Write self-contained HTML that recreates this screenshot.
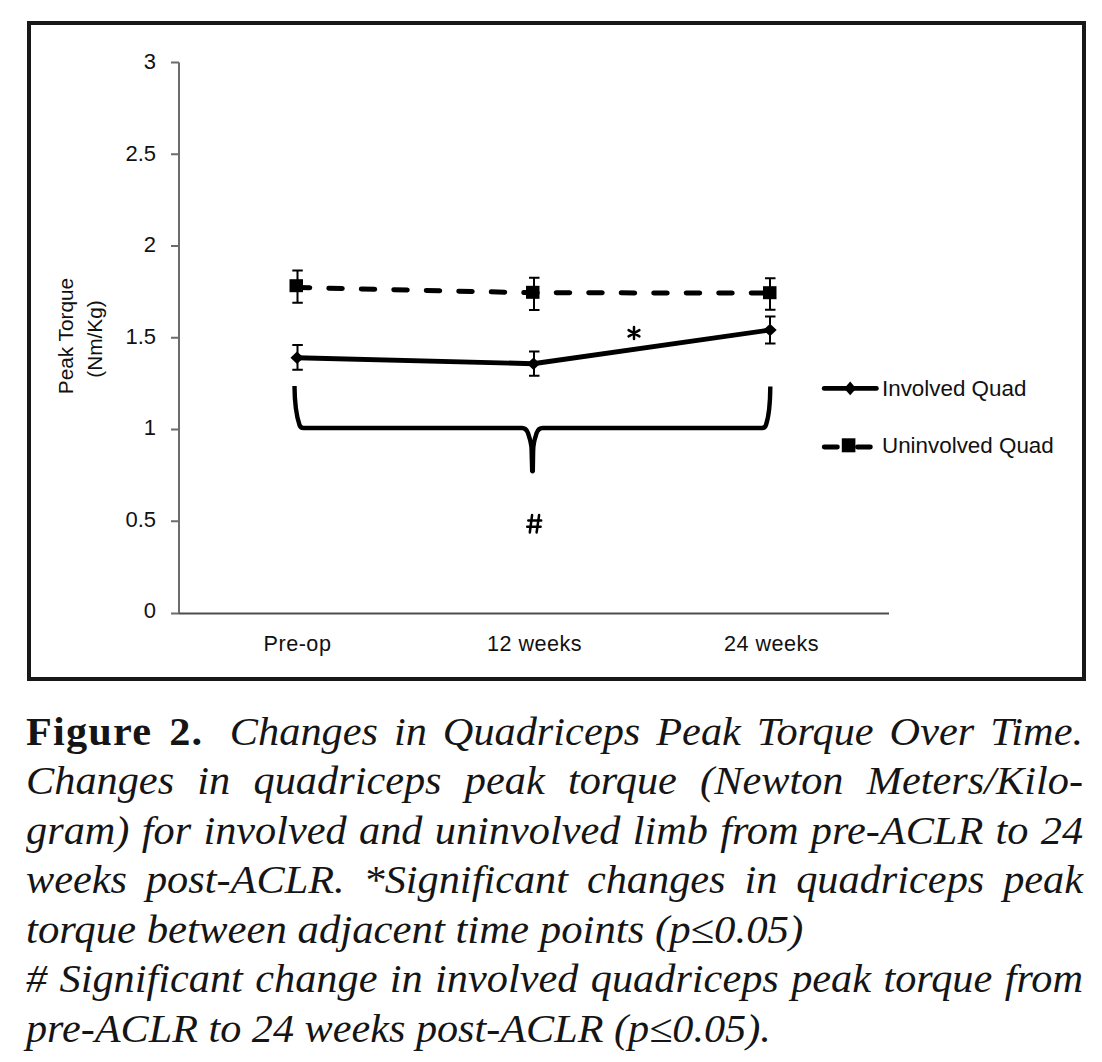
<!DOCTYPE html>
<html><head><meta charset="utf-8">
<style>
html,body{margin:0;padding:0;background:#fff;width:1102px;height:1062px;overflow:hidden;position:relative}
svg{position:absolute;left:0;top:0}
.ax{font-family:"Liberation Sans",sans-serif;fill:#111}
.cap{position:absolute;left:26px;font-family:"Liberation Serif",serif;font-style:italic;font-size:40px;line-height:49.5px;color:#151515;white-space:nowrap;transform-origin:0 0}
.j{text-align:justify;text-align-last:justify;white-space:normal}
b{font-style:normal;font-weight:bold;letter-spacing:1.1px;margin-right:10px}
</style></head>
<body>
<svg width="1102" height="1062" viewBox="0 0 1102 1062">
  <!-- outer frame -->
  <rect x="29" y="23" width="1055" height="656" fill="none" stroke="#181818" stroke-width="4"/>
  <!-- axes -->
  <g stroke="#6c6c6c" stroke-width="2" fill="none">
    <path d="M179 62.5V613.5"/>
    <path d="M179 613.5H889" stroke="#4d4d4d"/>
    <path d="M171 62.5H179M171 154.3H179M171 246H179M171 337.8H179M171 429.5H179M171 521.3H179M171 613.5H179"/>
  </g>
  <g class="ax" font-size="22" text-anchor="end">
    <text x="156" y="69.1">3</text>
    <text x="156" y="160.6">2.5</text>
    <text x="156" y="252.1">2</text>
    <text x="156" y="343.6">1.5</text>
    <text x="156" y="435.1">1</text>
    <text x="156" y="526.6">0.5</text>
    <text x="156" y="618.1">0</text>
  </g>
  <g class="ax" font-size="21.6" text-anchor="middle" letter-spacing="0.5">
    <text x="297.5" y="651">Pre-op</text>
    <text x="534.5" y="651">12 weeks</text>
    <text x="771.5" y="651">24 weeks</text>
  </g>
  <g class="ax" font-size="20.8" text-anchor="middle">
    <text transform="translate(72.5 336) rotate(-90)">Peak Torque</text>
    <text transform="translate(101.5 339) rotate(-90)">(Nm/Kg)</text>
  </g>
  <!-- uninvolved dashed -->
  <path d="M297.5 287.5L533 292.8L770 293" fill="none" stroke="#000" stroke-width="5" stroke-linecap="round" stroke-dasharray="13.5 19" stroke-dashoffset="1.2"/>
  <!-- involved solid -->
  <path d="M297 357.8L533 363.7L770 330" fill="none" stroke="#000" stroke-width="4.9" stroke-linejoin="round"/>
  <!-- error bars -->
  <g stroke="#000" stroke-width="2" fill="none">
    <path d="M297.5 270.4V302.7M292.3 270.4H302.8M292.3 302.7H302.8"/>
    <path d="M534 277.8V309.9M529 277.8H539.5M529 309.9H539.5"/>
    <path d="M770 278.2V309.8M765 278.2H775.5M765 309.8H775.5"/>
    <path d="M297.5 345V369.8M292.3 345H302.8M292.3 369.8H302.8"/>
    <path d="M534 351.4V375.7M529 351.4H539.5M529 375.7H539.5"/>
    <path d="M770 316.4V343.6M765 316.4H775.5M765 343.6H775.5"/>
  </g>
  <!-- markers -->
  <g fill="#000">
    <rect x="289.5" y="279.2" width="13.5" height="13"/>
    <rect x="526" y="285.8" width="13.5" height="13"/>
    <rect x="763" y="286.2" width="13.5" height="13"/>
    <path d="M297 351.5L303.7 357.8L297 364L290.5 357.8Z"/>
    <path d="M533.5 357.4L540 363.7L533.5 370L527 363.7Z"/>
    <path d="M770 323.7L776.7 330L770 336.3L763.3 330Z"/>
  </g>
  <!-- asterisk -->
  <g stroke="#000" stroke-width="2.5" stroke-linecap="round"><path d="M634 327V339M628.6 330.1L639.4 336.4M628.6 336.4L639.4 330.1"/></g>
  <!-- brace -->
  <path d="M294.5 386C294.6 402 296.5 416 299.5 425Q300.5 428 303.5 428L522 428Q526 428 528 433Q530.5 440 531.5 447L532.2 471.5" fill="none" stroke="#000" stroke-width="4.4" stroke-linecap="butt" stroke-linejoin="round"/>
  <path d="M532.8 471.5L533.2 447Q534.2 440 536.6 433Q538.5 428 542.5 428L762 428Q765 428 766 425C769 416 770.2 402 770.3 386.5" fill="none" stroke="#000" stroke-width="4.4" stroke-linecap="butt" stroke-linejoin="round"/>
  <path d="M529.5 440L535.5 440L534.6 462L530.6 462Z" fill="#000"/>
  <circle cx="532.5" cy="471.2" r="2.3" fill="#000"/>
  <g stroke="#000" stroke-width="2.5" stroke-linecap="round" fill="none">
    <path d="M532.1 515L529.8 532.5M539.1 515L536.6 532.5M528.3 520.6H541.2M527.2 526.8H540.6"/>
  </g>
  <!-- legend -->
  <path d="M824.2 388.4H876.4" stroke="#000" stroke-width="4.8" stroke-linecap="round"/>
  <path d="M850.2 381.6L856.2 388.4L850.2 395.2L844.2 388.4Z" fill="#000"/>
  <path d="M824.2 447H837.4M857.4 447H870.4" stroke="#000" stroke-width="4.8" stroke-linecap="round"/>
  <rect x="841.8" y="438.3" width="13.6" height="14" fill="#000"/>
  <g class="ax" font-size="22.4">
    <text x="882" y="395.5">Involved Quad</text>
    <text x="882" y="452.5">Uninvolved Quad</text>
  </g>
</svg>
<div class="cap j" style="top:706.75px;width:999.1px;transform:scaleX(1.058)"><b>Figure 2.</b> Changes in Quadriceps Peak Torque Over Time.</div>
<div class="cap j" style="top:756.25px;width:999.1px;transform:scaleX(1.058)">Changes in quadriceps peak torque (Newton Meters/Kilo-</div>
<div class="cap j" style="top:805.75px;width:999.1px;transform:scaleX(1.058)">gram) for involved and uninvolved limb from pre-ACLR to 24</div>
<div class="cap j" style="top:855.25px;width:999.1px;transform:scaleX(1.058)">weeks post-ACLR. *Significant changes in quadriceps peak</div>
<div class="cap" style="top:904.75px;transform:scaleX(1.069)">torque between adjacent time points (p≤0.05)</div>
<div class="cap j" style="top:954.25px;width:999.1px;transform:scaleX(1.058)"># Significant change in involved quadriceps peak torque from</div>
<div class="cap" style="top:1003.75px;transform:scaleX(1.055)">pre-ACLR to 24 weeks post-ACLR (p≤0.05).</div>
</body></html>
